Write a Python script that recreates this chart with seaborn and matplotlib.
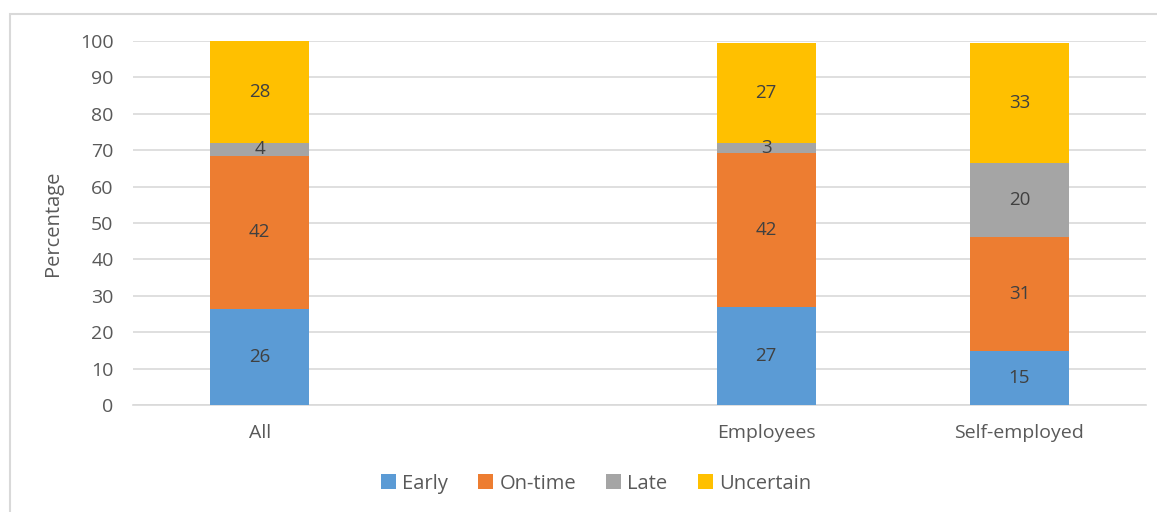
import numpy as np
import pandas as pd
import matplotlib.pyplot as plt
import seaborn as sns
from matplotlib.patches import Rectangle, Patch

# categories (the blank slot is an empty category in the original chart)
groups = ["All", "", "Employees", "Self-employed"]
series = ["Early", "On-time", "Late", "Uncertain"]
colors = ["#5b9bd5", "#ed7d31", "#a5a5a5", "#ffc000"]

# percentages (labels are rounded)
early = [26.4, np.nan, 26.9, 14.8]
on_time = [42.0, np.nan, 42.3, 31.4]
late = [3.6, np.nan, 2.8, 20.3]
uncertain = [28.0, np.nan, 27.4, 33.0]

df = pd.DataFrame({"group": groups, "Early": early, "On-time": on_time,
                   "Late": late, "Uncertain": uncertain})
df = df[df["group"] != ""]
cum = df[series].cumsum(axis=1)

sns.set_style("white")
plt.rcParams["font.family"] = ["Open Sans", "DejaVu Sans"]
text_col = "#595959"

fig = plt.figure(figsize=(11.57, 5.12), dpi=100)
ax = fig.add_axes([133 / 1157, 107 / 512, 1013 / 1157, 364 / 512])

# draw cumulative totals from the top series down so they stack
for name, col in reversed(list(zip(series, colors))):
    sns.barplot(x=df["group"], y=cum[name], order=groups, color=col,
                width=0.39, saturation=1, linewidth=0, ax=ax, zorder=3)

# segment labels
for i, g in enumerate(groups):
    if g == "":
        continue
    row = df[df["group"] == g].iloc[0]
    base = 0
    for name in series:
        v = row[name]
        ax.text(i, base + v / 2, f"{v:.0f}", ha="center", va="center",
                fontsize=13.5, color="#404040", zorder=4)
        base += v

ax.set_ylim(0, 100)
ax.set_xlim(-0.5, 3.5)
ax.set_yticks(range(0, 101, 10))
ax.yaxis.grid(True, color="#d9d9d9", linewidth=1.2, zorder=0)
ax.set_axisbelow(True)
for s in ["top", "right", "left"]:
    ax.spines[s].set_visible(False)
ax.spines["bottom"].set_color("#d9d9d9")
ax.spines["bottom"].set_linewidth(1.2)
ax.tick_params(axis="both", length=0, labelsize=14, colors=text_col, pad=14)
ax.tick_params(axis="x", pad=14)
ax.set_xlabel("")
ax.set_ylabel("Percentage", fontsize=14.5, color=text_col, labelpad=12)

handles = [Patch(facecolor=c, edgecolor="none") for c in colors]
fig.legend(handles, series, loc="center", bbox_to_anchor=(0.515, 0.055),
           ncol=4, frameon=False, fontsize=14.5, handlelength=0.75,
           handleheight=0.75, handletextpad=0.3, columnspacing=1.5,
           labelcolor=text_col)

# outer chart border (top and left edges visible)
fig.patches.append(Rectangle((10 / 1157, -0.2), 1.2, 1.2 - 14 / 512,
                             transform=fig.transFigure, fill=False,
                             edgecolor="#d9d9d9", linewidth=1.5))

fig.savefig("out.png", dpi=100)
